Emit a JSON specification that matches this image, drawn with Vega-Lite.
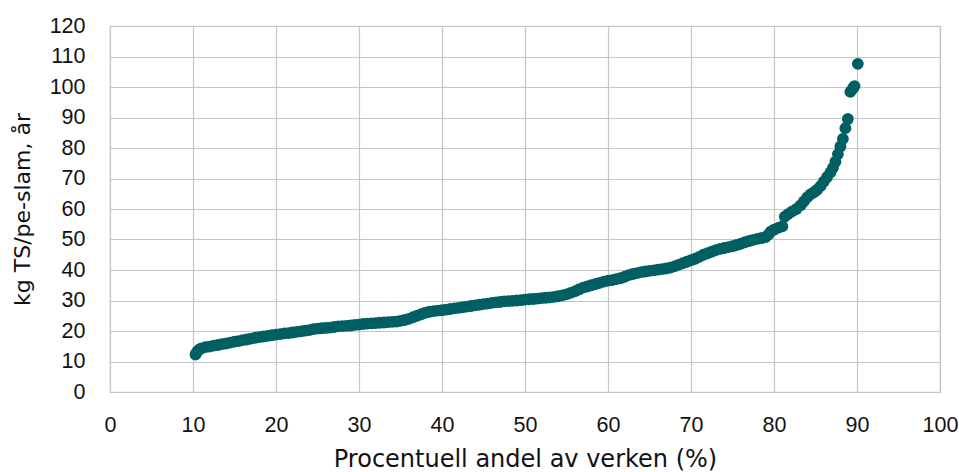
{
  "$schema": "https://vega.github.io/schema/vega-lite/v6.json",
  "autosize": "none",
  "width": 830,
  "height": 366,
  "padding": {"left": 110, "top": 26, "right": 19, "bottom": 80},
  "background": "white",
  "config": {
    "view": {"stroke": "#c6c6c6", "strokeWidth": 1.2},
    "axis": {
      "labelFont": "Liberation Sans",
      "titleFont": "DejaVu Sans",
      "labelFontSize": 21.5,
      "titleFontSize": 22,
      "labelColor": "#111111",
      "titleColor": "#111111",
      "titleFontWeight": "normal",
      "gridColor": "#c6c6c6",
      "gridWidth": 1.2,
      "domain": false,
      "ticks": false,
      "labelFlush": false
    }
  },
  "data": {
    "values": [
      {"x": 10.3, "y": 12.3}, {"x": 10.5, "y": 13.2}, {"x": 10.8, "y": 14.0}, {"x": 11.0, "y": 14.3},
      {"x": 11.5, "y": 14.7}, {"x": 12.0, "y": 14.9}, {"x": 12.5, "y": 15.2}, {"x": 13.0, "y": 15.4},
      {"x": 13.5, "y": 15.7}, {"x": 14.0, "y": 15.9}, {"x": 14.5, "y": 16.2}, {"x": 15.0, "y": 16.5},
      {"x": 15.5, "y": 16.7}, {"x": 16.0, "y": 17.0}, {"x": 16.5, "y": 17.2}, {"x": 17.0, "y": 17.5},
      {"x": 17.5, "y": 17.8}, {"x": 18.0, "y": 18.0}, {"x": 18.5, "y": 18.2}, {"x": 19.0, "y": 18.4},
      {"x": 19.5, "y": 18.6}, {"x": 20.0, "y": 18.8}, {"x": 20.5, "y": 19.0}, {"x": 21.0, "y": 19.2},
      {"x": 21.5, "y": 19.3}, {"x": 22.0, "y": 19.5}, {"x": 22.5, "y": 19.7}, {"x": 23.0, "y": 19.9},
      {"x": 23.5, "y": 20.1}, {"x": 24.0, "y": 20.3}, {"x": 24.5, "y": 20.6}, {"x": 25.0, "y": 20.8},
      {"x": 25.5, "y": 20.9}, {"x": 26.0, "y": 21.0}, {"x": 26.5, "y": 21.1}, {"x": 27.0, "y": 21.3},
      {"x": 27.5, "y": 21.5}, {"x": 28.0, "y": 21.6}, {"x": 28.5, "y": 21.7}, {"x": 29.0, "y": 21.8},
      {"x": 29.5, "y": 22.0}, {"x": 30.0, "y": 22.1}, {"x": 30.5, "y": 22.3}, {"x": 31.0, "y": 22.4},
      {"x": 31.5, "y": 22.5}, {"x": 32.0, "y": 22.6}, {"x": 32.5, "y": 22.7}, {"x": 33.0, "y": 22.8},
      {"x": 33.5, "y": 22.9}, {"x": 34.0, "y": 23.0}, {"x": 34.5, "y": 23.1}, {"x": 35.0, "y": 23.3},
      {"x": 35.5, "y": 23.6}, {"x": 36.0, "y": 24.0}, {"x": 36.5, "y": 24.5}, {"x": 37.0, "y": 25.0},
      {"x": 37.5, "y": 25.5}, {"x": 38.0, "y": 26.0}, {"x": 38.5, "y": 26.3}, {"x": 39.0, "y": 26.5},
      {"x": 39.5, "y": 26.7}, {"x": 40.0, "y": 26.8}, {"x": 40.5, "y": 27.0}, {"x": 41.0, "y": 27.2},
      {"x": 41.5, "y": 27.4}, {"x": 42.0, "y": 27.6}, {"x": 42.5, "y": 27.8}, {"x": 43.0, "y": 28.0},
      {"x": 43.5, "y": 28.2}, {"x": 44.0, "y": 28.4}, {"x": 44.5, "y": 28.6}, {"x": 45.0, "y": 28.8},
      {"x": 45.5, "y": 29.0}, {"x": 46.0, "y": 29.2}, {"x": 46.5, "y": 29.4}, {"x": 47.0, "y": 29.5},
      {"x": 47.5, "y": 29.7}, {"x": 48.0, "y": 29.8}, {"x": 48.5, "y": 29.9}, {"x": 49.0, "y": 30.0},
      {"x": 49.5, "y": 30.1}, {"x": 50.0, "y": 30.3}, {"x": 50.5, "y": 30.4}, {"x": 51.0, "y": 30.5},
      {"x": 51.5, "y": 30.6}, {"x": 52.0, "y": 30.8}, {"x": 52.5, "y": 30.9}, {"x": 53.0, "y": 31.0},
      {"x": 53.5, "y": 31.2}, {"x": 54.0, "y": 31.4}, {"x": 54.5, "y": 31.7}, {"x": 55.0, "y": 32.0},
      {"x": 55.5, "y": 32.5}, {"x": 56.0, "y": 33.0}, {"x": 56.5, "y": 33.6}, {"x": 57.0, "y": 34.2},
      {"x": 57.5, "y": 34.6}, {"x": 58.0, "y": 35.0}, {"x": 58.5, "y": 35.4}, {"x": 59.0, "y": 35.8},
      {"x": 59.5, "y": 36.2}, {"x": 60.0, "y": 36.5}, {"x": 60.5, "y": 36.7}, {"x": 61.0, "y": 37.0},
      {"x": 61.5, "y": 37.3}, {"x": 62.0, "y": 37.8}, {"x": 62.5, "y": 38.3}, {"x": 63.0, "y": 38.7},
      {"x": 63.5, "y": 39.0}, {"x": 64.0, "y": 39.3}, {"x": 64.5, "y": 39.5}, {"x": 65.0, "y": 39.7},
      {"x": 65.5, "y": 39.9}, {"x": 66.0, "y": 40.1}, {"x": 66.5, "y": 40.3}, {"x": 67.0, "y": 40.5},
      {"x": 67.5, "y": 40.8}, {"x": 68.0, "y": 41.2}, {"x": 68.5, "y": 41.7}, {"x": 69.0, "y": 42.2},
      {"x": 69.5, "y": 42.7}, {"x": 70.0, "y": 43.2}, {"x": 70.5, "y": 43.7}, {"x": 71.0, "y": 44.3},
      {"x": 71.5, "y": 45.0}, {"x": 72.0, "y": 45.5}, {"x": 72.5, "y": 46.0}, {"x": 73.0, "y": 46.5},
      {"x": 73.5, "y": 46.9}, {"x": 74.0, "y": 47.2}, {"x": 74.5, "y": 47.5}, {"x": 75.0, "y": 47.8},
      {"x": 75.5, "y": 48.2}, {"x": 76.0, "y": 48.6}, {"x": 76.5, "y": 49.1}, {"x": 77.0, "y": 49.5},
      {"x": 77.5, "y": 49.9}, {"x": 78.0, "y": 50.2}, {"x": 78.5, "y": 50.5}, {"x": 79.0, "y": 50.8},
      {"x": 79.3, "y": 51.5}, {"x": 79.6, "y": 52.6}, {"x": 80.0, "y": 53.2}, {"x": 80.5, "y": 53.8},
      {"x": 81.0, "y": 54.3}, {"x": 81.3, "y": 57.5}, {"x": 81.7, "y": 58.3}, {"x": 82.2, "y": 59.2},
      {"x": 82.7, "y": 60.0}, {"x": 83.2, "y": 61.2}, {"x": 83.6, "y": 62.5}, {"x": 84.0, "y": 63.8},
      {"x": 84.4, "y": 64.8}, {"x": 84.8, "y": 65.5}, {"x": 85.2, "y": 66.3}, {"x": 85.6, "y": 67.5},
      {"x": 86.0, "y": 69.0}, {"x": 86.4, "y": 70.5}, {"x": 86.8, "y": 72.0}, {"x": 87.1, "y": 73.5},
      {"x": 87.4, "y": 75.5}, {"x": 87.7, "y": 78.0}, {"x": 88.0, "y": 80.5}, {"x": 88.3, "y": 83.0},
      {"x": 88.6, "y": 86.5}, {"x": 88.9, "y": 89.5}, {"x": 89.2, "y": 98.4}, {"x": 89.5, "y": 99.5},
      {"x": 89.7, "y": 100.3}, {"x": 90.1, "y": 107.6}
    ]
  },
  "mark": {"type": "circle", "size": 140, "color": "#005f63", "opacity": 1},
  "encoding": {
    "x": {
      "field": "x",
      "type": "quantitative",
      "scale": {"domain": [0, 100], "nice": false, "zero": true},
      "axis": {"values": [0, 10, 20, 30, 40, 50, 60, 70, 80, 90, 100], "labelPadding": 22, "title": "Procentuell andel av verken (%)", "titleFontSize": 24, "titlePadding": 12}
    },
    "y": {
      "field": "y",
      "type": "quantitative",
      "scale": {"domain": [0, 120], "nice": false},
      "axis": {"values": [0, 10, 20, 30, 40, 50, 60, 70, 80, 90, 100, 110, 120], "labelPadding": 25, "title": "kg TS/pe-slam, år", "titlePadding": 15}
    }
  }
}
